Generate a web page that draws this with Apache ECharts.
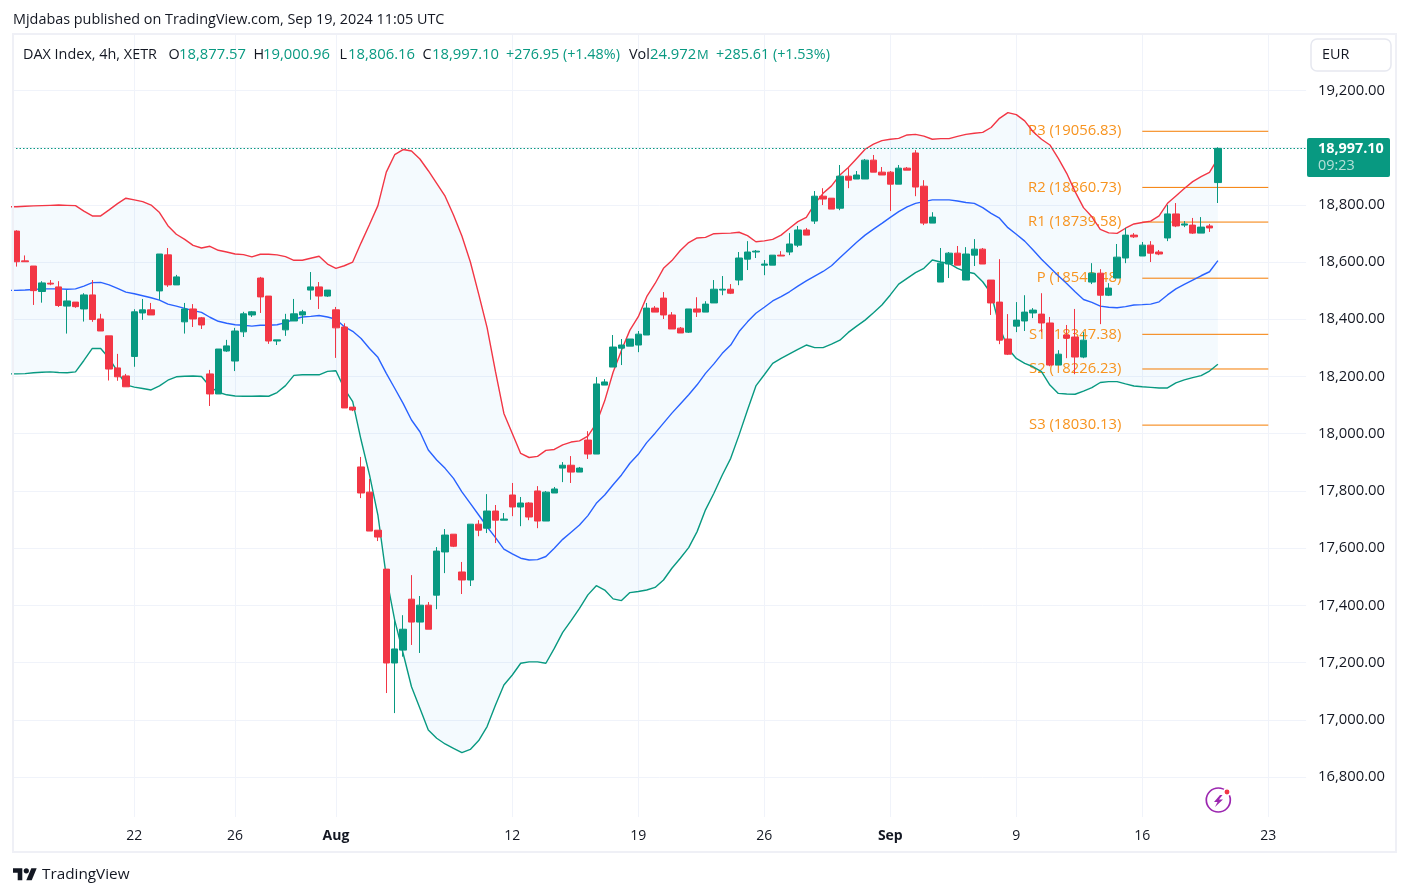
<!DOCTYPE html>
<html>
<head>
<meta charset="utf-8">
<title>DAX Index 4h</title>
<script src="https://cdn.jsdelivr.net/npm/echarts@6/dist/echarts.min.js"></script>
<style>
html, body { margin: 0; padding: 0; background: #fff; }
#main { width: 1409px; height: 896px; }
</style>
</head>
<body>
<div id="main"></div>
<script>
// candles, oldest first
var opens = [18708,18604,18586,18497,18526,18513,18446,18460,18436,18485,18401,18342,18230,18202,18270,18422,18433,18499,18625,18520,
  18391,18436,18405,18209,18139,18289,18254,18356,18415,18544,18481,18324,18363,18394,18415,18502,18513,18481,18433,18373,
  18093,17884,17796,17663,17527,17199,17244,17422,17342,17401,17436,17587,17649,17517,17489,17684,17670,17730,17698,17786,
  17744,17758,17800,17695,17793,17880,17890,17866,17978,17929,18170,18233,18299,18306,18310,18345,18439,18474,18415,18369,
  18355,18436,18425,18457,18502,18505,18537,18610,18635,18589,18589,18624,18635,18659,18712,18743,18830,18823,18788,18900,
  18890,18890,18956,18914,18914,18872,18928,18981,18865,18736,18530,18593,18631,18537,18624,18645,18537,18460,18331,18376,
  18394,18422,18418,18387,18240,18345,18338,18268,18530,18561,18484,18544,18614,18694,18621,18659,18635,18684,18768,18729,
  18729,18701,18726,18877.57];
var highs = [18711,18623,18586,18533,18537,18533,18502,18460,18491,18537,18419,18342,18279,18209,18435,18471,18457,18628,18649,18555,
  18457,18453,18408,18223,18296,18328,18370,18426,18429,18548,18481,18328,18419,18471,18433,18565,18530,18502,18443,18386,
  18093,17919,17842,17663,17527,17349,17366,17506,17433,17412,17604,17667,17649,17552,17684,17698,17789,17751,17723,17828,
  17779,17761,17817,17800,17814,17901,17922,17884,18009,18198,18191,18345,18331,18331,18359,18457,18446,18495,18425,18373,
  18436,18477,18463,18537,18551,18523,18635,18673,18642,18607,18624,18638,18701,18726,18719,18848,18858,18823,18939,18928,
  18918,18960,18974,18932,18918,18939,18932,18991,18886,18774,18649,18635,18656,18652,18680,18649,18537,18610,18418,18460,
  18484,18439,18491,18408,18292,18380,18436,18355,18596,18575,18526,18663,18719,18701,18670,18673,18642,18799,18806,18743,
  18754,18757,18733,19000.96];
var lows = [18584,18601,18450,18458,18519,18443,18350,18440,18392,18391,18359,18186,18185,18164,18234,18398,18415,18468,18513,18520,
  18350,18373,18366,18097,18139,18286,18219,18338,18408,18422,18314,18310,18342,18394,18384,18468,18436,18478,18265,18090,
  18079,17775,17660,17625,17094,17024,17221,17262,17234,17317,17387,17513,17604,17440,17468,17642,17653,17618,17698,17712,
  17677,17698,17670,17695,17793,17831,17828,17866,17912,17929,18170,18233,18240,18306,18285,18345,18425,18401,18366,18352,
  18352,18408,18425,18457,18484,18488,18519,18572,18614,18554,18589,18621,18624,18652,18694,18733,18799,18785,18781,18858,
  18890,18890,18914,18904,18778,18872,18921,18830,18729,18736,18530,18544,18589,18537,18586,18593,18415,18313,18275,18355,
  18359,18404,18355,18236,18240,18264,18208,18264,18523,18383,18481,18544,18596,18684,18621,18600,18624,18673,18722,18722,
  18698,18701,18705,18806.16];
var closes = [18601,18601,18500,18527,18523,18448,18464,18444,18485,18399,18359,18226,18199,18164,18426,18433,18415,18628,18520,18548,
  18436,18401,18380,18139,18296,18307,18359,18419,18426,18478,18324,18328,18398,18419,18426,18513,18481,18502,18370,18090,
  18083,17793,17660,17639,17199,17248,17317,17342,17401,17317,17590,17646,17607,17489,17684,17663,17730,17698,17702,17744,
  17758,17709,17695,17796,17807,17890,17866,17880,17929,18174,18181,18303,18310,18331,18348,18439,18425,18415,18366,18352,
  18436,18425,18453,18505,18505,18491,18614,18635,18638,18593,18624,18621,18663,18712,18694,18830,18820,18785,18900,18886,
  18904,18956,18914,18904,18872,18928,18921,18862,18736,18757,18596,18631,18589,18628,18645,18593,18457,18327,18278,18397,
  18425,18432,18387,18240,18278,18334,18268,18327,18561,18484,18509,18617,18694,18688,18659,18631,18628,18768,18726,18733,
  18701,18722,18719,18997.10];

// bollinger bands, one extra leading point that sits left of the pane
var bbUpper = [18793,18793,18795,18796,18797,18798,18799,18798,18797,18778,18761,18761,18782,18804,18823,18817,18811,18799,18773,18727,
  18697,18679,18658,18649,18655,18641,18635,18628,18626,18618,18627,18627,18625,18619,18606,18606,18613,18620,18593,18578,
  18587,18600,18667,18731,18797,18914,18975,18993,18988,18960,18919,18875,18830,18764,18691,18601,18488,18371,18217,18071,
  18001,17931,17917,17921,17942,17945,17961,17971,17975,17992,18036,18115,18215,18292,18362,18409,18479,18525,18578,18605,
  18640,18668,18684,18686,18699,18700,18701,18704,18692,18671,18674,18679,18694,18718,18741,18756,18803,18840,18866,18904,
  18930,18962,18994,19012,19024,19029,19032,19044,19046,19040,19029,19031,19031,19039,19046,19050,19053,19070,19102,19122,
  19115,19093,19055,19029,19009,18962,18910,18846,18790,18758,18714,18702,18700,18718,18733,18738,18743,18761,18805,18831,
  18857,18881,18898,18913,18962];
var bbMiddle = [18501,18501,18502,18504,18506,18506,18506,18505,18506,18516,18528,18529,18520,18508,18495,18489,18482,18475,18467,18453,
  18446,18438,18430,18424,18407,18393,18386,18381,18379,18376,18379,18379,18381,18388,18400,18408,18410,18413,18408,18400,
  18374,18358,18333,18298,18267,18211,18159,18106,18048,18007,17943,17908,17879,17844,17797,17757,17716,17675,17637,17597,
  17580,17565,17559,17560,17571,17600,17631,17656,17681,17714,17757,17786,17822,17856,17897,17928,17969,18002,18037,18072,
  18104,18136,18171,18211,18244,18281,18310,18357,18391,18421,18442,18464,18479,18496,18516,18534,18551,18567,18587,18615,
  18642,18669,18694,18715,18735,18756,18776,18793,18805,18811,18817,18817,18817,18813,18808,18805,18790,18770,18753,18720,
  18697,18673,18642,18610,18581,18552,18525,18496,18469,18459,18446,18442,18440,18444,18450,18451,18453,18461,18485,18506,
  18522,18537,18552,18566,18605];
var bbLower = [18209,18209,18210,18213,18215,18216,18214,18213,18216,18256,18298,18298,18264,18217,18171,18163,18158,18153,18167,18187,
  18199,18201,18202,18200,18165,18145,18136,18132,18131,18131,18132,18131,18144,18168,18204,18206,18206,18206,18218,18220,
  18158,18112,17978,17856,17716,17501,17349,17233,17116,17041,16965,16936,16916,16901,16886,16897,16928,16977,17052,17122,
  17157,17198,17203,17203,17198,17250,17306,17347,17390,17437,17469,17454,17423,17417,17445,17449,17454,17463,17489,17530,
  17565,17602,17658,17734,17792,17856,17914,17996,18083,18167,18206,18246,18263,18279,18295,18310,18301,18301,18313,18327,
  18354,18376,18397,18423,18450,18485,18523,18543,18563,18578,18607,18600,18595,18578,18566,18560,18531,18490,18374,18298,
  18263,18246,18234,18217,18170,18141,18139,18138,18149,18161,18179,18182,18182,18174,18167,18164,18162,18160,18160,18178,
  18188,18196,18203,18219,18243];

var pivotNames = ['R3', 'R2', 'R1', 'P', 'S1', 'S2', 'S3'];
var pivotValues = [19056.83, 18860.73, 18739.58, 18543.48, 18347.38, 18226.23, 18030.13];
var pivotFrom = 134, pivotTo = 149;

var dayLabels = ['22', '26', 'Aug', '12', '19', '26', 'Sep', '9', '16', '23'];
var dayBars = [14, 26, 38, 59, 74, 89, 104, 119, 134, 149];
var barSlots = 154;
var priceTicks = [16800,17000,17200,17400,17600,17800,18000,18200,18400,18600,18800,19000,19200];
var lastPrice = 18997.10;

var green = '#089981', red = '#F23645', blue = '#2962FF', ink = '#131722', rule = '#f0f3fa', orange = '#F7931E';
var font = '"Open Sans", sans-serif';
var numSize = 14.8;

// slot 0 is the leading hidden one
var categories = [''];
for (var i = 0; i < barSlots; i++) {
  var at = dayBars.indexOf(i);
  categories.push(at >= 0 ? dayLabels[at] : '');
}
var candleData = opens.map(function (o, i) { return [o, closes[i], lows[i], highs[i]]; });
candleData.unshift(['-', '-', '-', '-']);
var bbWidth = bbUpper.map(function (u, i) { return u - bbLower[i]; });

function hasLabel(index, value) { return value !== ''; }
function txt(x, y, s, color, size, weight) {
  return { type: 'text', x: x, y: y, silent: true, z: 21, style: {
    text: s, fill: color || ink, fontFamily: font, fontSize: size || 14.4, fontWeight: weight || 'normal',
    verticalAlign: 'middle', align: 'left' } };
}
function bbLine(name, data, color) {
  return { name: name, type: 'line', data: data, symbol: 'none', z: 3, silent: true,
    lineStyle: { color: color, width: 1.4 } };
}

var myChart = echarts.init(document.getElementById('main'), null, { renderer: 'canvas' });
myChart.setOption({
  animation: false,
  backgroundColor: '#fff',
  textStyle: { fontFamily: font },
  grid: { left: 12.5, top: 35, width: 1293.6, height: 782, containLabel: false },
  dataZoom: [{ type: 'inside', xAxisIndex: 0, startValue: 1, endValue: barSlots, filterMode: 'none',
    zoomLock: true, moveOnMouseMove: false, moveOnMouseWheel: false, zoomOnMouseWheel: false }],
  xAxis: {
    type: 'category', data: categories, boundaryGap: true,
    axisLine: { show: false }, axisTick: { show: false, interval: hasLabel, alignWithLabel: true },
    splitLine: { show: true, interval: hasLabel, alignWithLabel: true, lineStyle: { color: rule, width: 1 } },
    axisLabel: { interval: hasLabel, color: ink, fontSize: 14, margin: 12, fontFamily: font,
      formatter: function (v) { return isNaN(+v) ? '{b|' + v + '}' : v; },
      rich: { b: { fontWeight: 'bold', fontSize: 14, color: ink, fontFamily: font } } }
  },
  yAxis: {
    type: 'value', position: 'right', min: 16660.9, max: 19393.2, scale: true,
    axisLine: { show: false }, axisTick: { show: false, customValues: priceTicks },
    splitLine: { show: true, lineStyle: { color: rule, width: 1 } },
    axisLabel: { customValues: priceTicks, color: ink, fontSize: numSize, margin: 12, fontFamily: font, padding: [0, 0, 2, 0],
      formatter: function (v) { return v.toLocaleString('en-US', { minimumFractionDigits: 2 }); } }
  },
  series: [
    { name: 'bbBase', type: 'line', data: bbLower, stack: 'bb', symbol: 'none', z: 1, silent: true, lineStyle: { opacity: 0 } },
    { name: 'bbFill', type: 'line', data: bbWidth, stack: 'bb', symbol: 'none', z: 1, silent: true, lineStyle: { opacity: 0 },
      areaStyle: { color: 'rgba(33,150,243,0.05)', opacity: 1 } },
    {
      name: 'pivots', type: 'custom', z: 2, silent: true, clip: false,
      data: pivotValues.map(function (v, i) { return [pivotFrom + 1, v, i]; }),
      encode: { x: 0, y: 1 },
      renderItem: function (params, api) {
        var a = api.coord([pivotFrom + 1, api.value(1)]);
        var b = api.coord([pivotTo + 1, api.value(1)]);
        var n = api.value(2);
        return { type: 'group', children: [
          { type: 'line', shape: { x1: a[0], y1: a[1], x2: b[0], y2: a[1] }, style: { stroke: '#F57C00', lineWidth: 1 } },
          { type: 'text', style: { x: a[0] - 21, y: a[1], text: pivotNames[n] + ' (' + pivotValues[n].toFixed(2) + ')',
            align: 'right', verticalAlign: 'middle', fill: orange, fontFamily: font, fontSize: numSize } }
        ] };
      }
    },
    bbLine('bbUpper', bbUpper, red),
    bbLine('bbMiddle', bbMiddle, blue),
    bbLine('bbLower', bbLower, green),
    {
      name: 'DAX', type: 'candlestick', data: candleData, barWidth: 7, z: 4, silent: true,
      itemStyle: { color: green, color0: red, borderColor: green, borderColor0: red, borderWidth: 1 },
      markLine: { silent: true, symbol: 'none', animation: false, label: { show: false },
        lineStyle: { color: green, type: [1.5, 2], width: 1.2 },
        data: [{ yAxis: lastPrice }] }
    }
  ],
  graphic: [
    // frame
    { type: 'rect', shape: { x: 13, y: 34, width: 1383, height: 818 }, silent: true, z: 20,
      style: { fill: 'none', stroke: '#eff0f6', lineWidth: 2 } },
    // publish line and legend
    txt(13, 20, 'Mjdabas published on TradingView.com, Sep 19, 2024 11:05 UTC'),
    txt(23, 55, 'DAX Index, 4h, XETR'),
    txt(168.5, 55, 'O'), txt(179, 55, '18,877.57', green, numSize),
    txt(253.5, 55, 'H'), txt(263, 55, '19,000.96', green, numSize),
    txt(339.5, 55, 'L'), txt(348, 55, '18,806.16', green, numSize),
    txt(422.5, 55, 'C'), txt(432, 55, '18,997.10', green, numSize),
    txt(506, 55, '+276.95 (+1.48%)', green),
    txt(629, 55, 'Vol'), txt(650, 55, '24.972', green, numSize), txt(697, 55, 'M', green, 13),
    txt(716, 55, '+285.61 (+1.53%)', green),
    // currency button
    { type: 'rect', shape: { x: 1311, y: 39, width: 80, height: 32, r: 6 }, z: 20, silent: true,
      style: { fill: '#fff', stroke: '#e6e8f0', lineWidth: 1.5 } },
    txt(1322, 55, 'EUR'),
    // last price tag
    { type: 'rect', shape: { x: 1307, y: 138, width: 83, height: 39, r: 2 }, z: 20, silent: true, style: { fill: green } },
    txt(1318, 148.5, '18,997.10', '#ffffff', 14.4, 'bold'),
    txt(1318, 166, '09:23', '#b5e0d8'),
    // lightning badge
    { type: 'circle', shape: { cx: 1218.3, cy: 800, r: 12 }, z: 20, silent: true, style: { fill: 'none', stroke: '#9C27B0', lineWidth: 1.7 } },
    { type: 'polygon', shape: { points: [[1220, 795], [1214, 802], [1217.5, 802], [1215, 807], [1223, 799.5], [1219, 799.5], [1222.5, 795]] },
      z: 20, silent: true, style: { fill: '#9C27B0' } },
    { type: 'circle', shape: { cx: 1227, cy: 792, r: 3.2 }, z: 21, silent: true, style: { fill: red, stroke: '#fff', lineWidth: 1.5 } },
    // logo
    { type: 'polygon', silent: true, style: { fill: ink },
      shape: { points: [[22.3, 880.2], [17.7, 880.2], [17.7, 872.8], [13, 872.8], [13, 868.2], [22.3, 868.2]] } },
    { type: 'polygon', silent: true, style: { fill: ink },
      shape: { points: [[31.7, 880.2], [26.3, 880.2], [31.3, 868.2], [36.7, 868.2]] } },
    { type: 'circle', shape: { cx: 26.3, cy: 870.8, r: 2.6 }, silent: true, style: { fill: ink } },
    txt(42, 874.5, 'TradingView', ink, 15.3)
  ]
});
</script>
</body>
</html>
